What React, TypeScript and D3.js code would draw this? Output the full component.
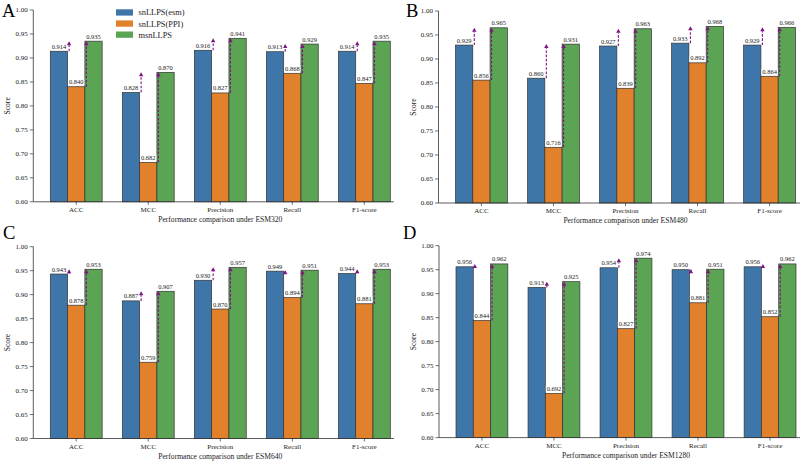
import React from "react";
import * as d3 from "d3";

// Metric categories shared by all four panels
const categories = ["ACC", "MCC", "Precision", "Recall", "F1-score"];
const seriesNames = ["snLLPS(esm)", "snLLPS(PPI)", "msnLLPS"];
const yTicks = [0.6, 0.65, 0.7, 0.75, 0.8, 0.85, 0.9, 0.95, 1.0];

// ESM320
const esm320Esm = [0.914, 0.828, 0.916, 0.913, 0.914];
const esm320Ppi = [0.84, 0.682, 0.827, 0.868, 0.847];
const esm320Msn = [0.935, 0.87, 0.941, 0.929, 0.935];
// ESM480
const esm480Esm = [0.929, 0.86, 0.927, 0.933, 0.929];
const esm480Ppi = [0.856, 0.716, 0.839, 0.892, 0.864];
const esm480Msn = [0.965, 0.931, 0.963, 0.968, 0.966];
// ESM640
const esm640Esm = [0.943, 0.887, 0.93, 0.949, 0.944];
const esm640Ppi = [0.878, 0.759, 0.87, 0.894, 0.881];
const esm640Msn = [0.953, 0.907, 0.957, 0.951, 0.953];
// ESM1280
const esm1280Esm = [0.956, 0.913, 0.954, 0.95, 0.956];
const esm1280Ppi = [0.844, 0.692, 0.827, 0.881, 0.852];
const esm1280Msn = [0.962, 0.925, 0.974, 0.951, 0.962];

const panelLetters = ["A", "B", "C", "D"];
const panelTitles = [
  "Performance comparison under ESM320",
  "Performance comparison under ESM480",
  "Performance comparison under ESM640",
  "Performance comparison under ESM1280",
];

const COLORS = ["#3f76aa", "#e1812c", "#5aa454"];
const ARROW = "#82127f";
const FONT = "'Liberation Serif', 'Times New Roman', serif";
const BAR_W = 0.24;

type Layout = {
  axisX: number;
  yTop: number;
  yBottom: number;
  clipRight: number;
  letterX: number;
  letterY: number;
  legend: boolean;
};

const layouts: Layout[] = [
  { axisX: 33.3, yTop: 10, yBottom: 201.8, clipRight: 394, letterX: 2, letterY: 16.5, legend: true },
  { axisX: 438.5, yTop: 11, yBottom: 203, clipRight: 800, letterX: 406, letterY: 16.8, legend: false },
  { axisX: 33.3, yTop: 246.7, yBottom: 438.5, clipRight: 394, letterX: 3, letterY: 238.5, legend: false },
  { axisX: 439, yTop: 245.7, yBottom: 437.6, clipRight: 800, letterX: 403, letterY: 238.5, legend: false },
];

const panelData = [
  [esm320Esm, esm320Ppi, esm320Msn],
  [esm480Esm, esm480Ppi, esm480Msn],
  [esm640Esm, esm640Ppi, esm640Msn],
  [esm1280Esm, esm1280Ppi, esm1280Msn],
];

function Arrow({ x, y1, y2 }: { x: number; y1: number; y2: number }) {
  const head = 4;
  return (
    <g>
      <line x1={x} x2={x} y1={y1} y2={y2 + head} stroke={ARROW} strokeWidth={1.1} strokeDasharray="2.6,1.6" />
      <path d={`M${x - 2.2},${y2 + head} L${x},${y2} L${x + 2.2},${y2 + head} Z`} fill={ARROW} />
    </g>
  );
}

function Panel({ idx }: { idx: number }) {
  const L = layouts[idx];
  const series = panelData[idx];
  const x = d3.scaleLinear().domain([-0.596, 4.596]).range([L.axisX, L.axisX + 374]);
  const y = d3.scaleLinear().domain([0.6, 1.0]).range([L.yBottom, L.yTop]);
  const bw = x(BAR_W) - x(0);
  const valueFont = 6.5;
  const clipId = `clip-${idx}`;
  const midY = (L.yTop + L.yBottom) / 2;
  const titleX = (x.range()[0] + x.range()[1]) / 2;

  return (
    <g>
      <defs>
        <clipPath id={clipId}>
          <rect x={L.axisX - 40} y={0} width={L.clipRight - L.axisX + 40} height={461} />
        </clipPath>
      </defs>
      <text x={L.letterX} y={L.letterY} fontFamily={FONT} fontSize={18.5}>
        {panelLetters[idx]}
      </text>
      <g clipPath={`url(#${clipId})`}>
        {/* bars */}
        {series.map((vals, s) =>
          vals.map((v, i) => {
            const cx = x(i + (s - 1) * BAR_W);
            return (
              <rect
                key={`b${s}-${i}`}
                x={cx - bw / 2}
                y={y(v)}
                width={bw}
                height={y(0.6) - y(v)}
                fill={COLORS[s]}
                stroke="#333"
                strokeWidth={0.7}
              />
            );
          })
        )}
        {/* improvement arrows toward msnLLPS */}
        {categories.map((_, i) => {
          const blueRight = x(i - BAR_W) + bw / 2;
          const greenLeft = x(i + BAR_W) - bw / 2;
          return (
            <g key={`a${i}`}>
              <Arrow x={blueRight + 1.5} y1={y(series[0][i])} y2={y(series[2][i])} />
              <Arrow x={greenLeft + 1.5} y1={y(series[1][i])} y2={y(series[2][i])} />
            </g>
          );
        })}
        {/* value labels */}
        {series.map((vals, s) =>
          vals.map((v, i) => {
            const cx = x(i + (s - 1) * BAR_W);
            const label = d3.format(".3f")(v);
            const tw = valueFont * 2.25;
            const by = y(v) - 2.5;
            return (
              <g key={`t${s}-${i}`}>
                <rect x={cx - tw / 2 - 0.8} y={by - valueFont * 0.75} width={tw + 1.6} height={valueFont * 0.9} fill="white" />
                <text x={cx} y={by} textAnchor="middle" fontFamily={FONT} fontSize={valueFont} fill="#222">
                  {label}
                </text>
              </g>
            );
          })
        )}
        {/* x axis */}
        <line x1={x.range()[0]} x2={x.range()[1]} y1={L.yBottom} y2={L.yBottom} stroke="#333" strokeWidth={0.8} />
        {categories.map((c, i) => (
          <g key={`xc${i}`}>
            <line x1={x(i)} x2={x(i)} y1={L.yBottom} y2={L.yBottom + 3} stroke="#333" strokeWidth={0.7} />
            <text x={x(i)} y={L.yBottom + 10.2} textAnchor="middle" fontFamily={FONT} fontSize={7} fill="#222">
              {c}
            </text>
          </g>
        ))}
        <text x={titleX} y={L.yBottom + 20.4} textAnchor="middle" fontFamily={FONT} fontSize={7.6} fill="#222">
          {panelTitles[idx]}
        </text>
      </g>
      {/* y axis */}
      <line x1={L.axisX} x2={L.axisX} y1={L.yTop} y2={L.yBottom} stroke="#333" strokeWidth={0.8} />
      {yTicks.map((t) => (
        <g key={`yt${t}`}>
          <line x1={L.axisX - 3.5} x2={L.axisX} y1={y(t)} y2={y(t)} stroke="#333" strokeWidth={0.7} />
          <text x={L.axisX - 5.5} y={y(t)} dy="0.35em" textAnchor="end" fontFamily={FONT} fontSize={7} fill="#222">
            {d3.format(".2f")(t)}
          </text>
        </g>
      ))}
      <text
        transform={`translate(${L.axisX - 23},${midY}) rotate(-90)`}
        textAnchor="middle"
        fontFamily={FONT}
        fontSize={7.6}
        fill="#222"
      >
        Score
      </text>
      {L.legend && (
        <g>
          {seriesNames.map((n, s) => (
            <g key={`lg${s}`}>
              <rect x={116} y={9.3 + s * 11.1} width={17} height={6.3} fill={COLORS[s]} />
              <text x={138.5} y={12.5 + s * 11.1} dy="0.35em" fontFamily={FONT} fontSize={8.4} fill="#222">
                {n}
              </text>
            </g>
          ))}
        </g>
      )}
    </g>
  );
}

export default function App() {
  return (
    <div style={{ position: "fixed", left: 0, top: 0 }}>
      <svg width={800} height={461} style={{ display: "block", background: "white" }}>
        {[0, 1, 2, 3].map((i) => (
          <Panel key={i} idx={i} />
        ))}
      </svg>
    </div>
  );
}
